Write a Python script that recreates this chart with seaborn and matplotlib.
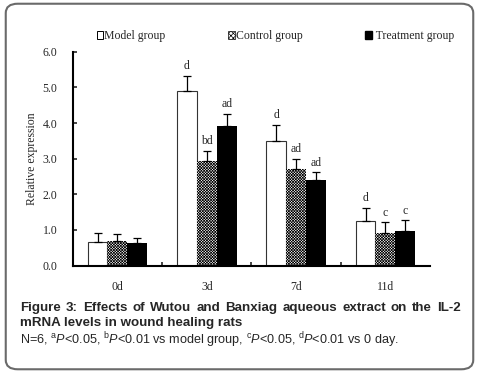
import numpy as np
import pandas as pd
import seaborn as sns
import matplotlib.pyplot as plt
from matplotlib.patches import FancyBboxPatch

days = ["0d", "3d", "7d", "11d"]
groups = ["Model group", "Control group", "Treatment group"]
model = [0.66, 4.90, 3.51, 1.24]
control = [0.68, 2.93, 2.70, 0.91]
treatment = [0.63, 3.92, 2.40, 0.97]
model_err = [0.25, 0.43, 0.45, 0.39]
control_err = [0.20, 0.30, 0.30, 0.30]
treatment_err = [0.14, 0.34, 0.22, 0.30]
model_sig = ["", "d", "d", "d"]
control_sig = ["", "bd", "ad", "c"]
treatment_sig = ["", "ad", "ad", "c"]

df = pd.DataFrame({
    "day": days * 3,
    "group": np.repeat(groups, len(days)),
    "value": model + control + treatment,
})
errs = [model_err, control_err, treatment_err]
sigs = [model_sig, control_sig, treatment_sig]

sns.set_style("ticks")
plt.rcParams['font.family'] = ['Liberation Serif', 'DejaVu Serif']
plt.rcParams['mathtext.fontset'] = 'custom'
plt.rcParams['mathtext.rm'] = 'Liberation Sans'
plt.rcParams['mathtext.it'] = 'Liberation Sans:italic'
plt.rcParams['hatch.linewidth'] = 0.5

fig = plt.figure(figsize=(4.79, 3.73), dpi=100)
ax = fig.add_axes([0.152, 0.288, 0.746, 0.573])

sns.barplot(data=df, x="day", y="value", hue="group", order=days, hue_order=groups,
            palette=["white", "white", "black"], width=0.67, gap=0, saturation=1,
            errorbar=None, edgecolor="none", linewidth=0, ax=ax, legend=False)

bar_containers = list(ax.containers)
for i, cont in enumerate(bar_containers):
    xs = [p.get_x() + p.get_width() / 2 for p in cont]
    hs = [p.get_height() for p in cont]
    for p in cont:
        if i == 0:
            p.set_edgecolor("#333333")
            p.set_linewidth(0.8)
        elif i == 1:
            p.set_hatch("xxxxxxxxxxxx")
            p.set_edgecolor("black")
            p.set_linewidth(0)
    ax.errorbar(xs, hs, yerr=[np.zeros(len(hs)), errs[i]], fmt="none",
                ecolor="black", elinewidth=0.9, capsize=3, capthick=0.9)
    for x, h, e, s in zip(xs, hs, errs[i], sigs[i]):
        if s:
            ax.text(x, h + e + 0.1, s, ha="center", va="bottom", fontsize=8.5)

ax.set_xlim(-0.5, 3.5)
ax.set_ylim(0, 6)
ax.set_yticks(np.arange(0, 6.1, 1.0))
ax.set_yticklabels([f"{v:.1f}" for v in np.arange(0, 6.1, 1.0)], fontsize=8.5)
ax.set_xticks(range(4))
ax.set_xticklabels(days, fontsize=8.5)
ax.set_xticks([0.5, 1.5, 2.5], minor=True)
ax.tick_params(axis="x", which="major", length=0, pad=11)
ax.tick_params(axis="x", which="minor", direction="in", length=3, width=1.2)
ax.tick_params(axis="y", direction="in", length=3, width=1.2, pad=11)
ax.set_xlabel("")
ax.set_ylabel("Relative expression", fontsize=8.5, labelpad=3)
sns.despine(ax=ax)
for s in ["left", "bottom"]:
    ax.spines[s].set_linewidth(1.5)
    ax.spines[s].set_color("black")

handles = [plt.Rectangle((0, 0), 1, 1, facecolor="white", edgecolor="black", linewidth=0.7),
           plt.Rectangle((0, 0), 1, 1, facecolor="white", edgecolor="black", hatch="xxxxxxx", linewidth=0.5),
           plt.Rectangle((0, 0), 1, 1, facecolor="black", edgecolor="black")]
fig.legend(handles, ["Model group", "Control group", " Treatment group"], ncol=3,
           loc="center left", bbox_to_anchor=(0.202, 0.903),
           frameon=False, fontsize=8.5, handlelength=0.55, handleheight=0.55,
           handletextpad=0.1, columnspacing=5.3, borderpad=0, borderaxespad=0)

# caption, first line justified
cap_font = dict(fontsize=9.6, fontweight="bold", family="Liberation Sans", va="center")
line1 = "Figure 3: Effects of Wutou and Banxiag aqueous extract on the IL-2".split()
left_px, right_px = 20, 461
renderer = fig.canvas.get_renderer()
widths = []
for w in line1:
    t = fig.text(0, 0, w, **cap_font)
    widths.append(t.get_window_extent(renderer).width)
    t.remove()
gap = (right_px - left_px - sum(widths)) / (len(line1) - 1)
xpos = left_px
for w, wd in zip(line1, widths):
    fig.text(xpos / 479, 0.174, w, **cap_font)
    xpos += wd + gap
fig.text(left_px / 479, 0.134, "mRNA levels in wound healing rats", **cap_font)
fig.text(left_px / 479, 0.088,
         r"N=6, $^{\mathrm{a}}\mathit{P}$<0.05, $^{\mathrm{b}}\mathit{P}$<0.01 vs model group, "
         r"$^{\mathrm{c}}\mathit{P}$<0.05, $^{\mathrm{d}}\mathit{P}$<0.01 vs 0 day.",
         fontsize=9.1, family="Liberation Sans", va="center")

border = FancyBboxPatch((0.012, 0.01), 0.976, 0.98, boxstyle="round,pad=0,rounding_size=0.025",
                        transform=fig.transFigure, facecolor="none", edgecolor="#6a6a6a",
                        linewidth=1.5)
fig.patches.append(border)

plt.savefig("out.png", dpi=100)
